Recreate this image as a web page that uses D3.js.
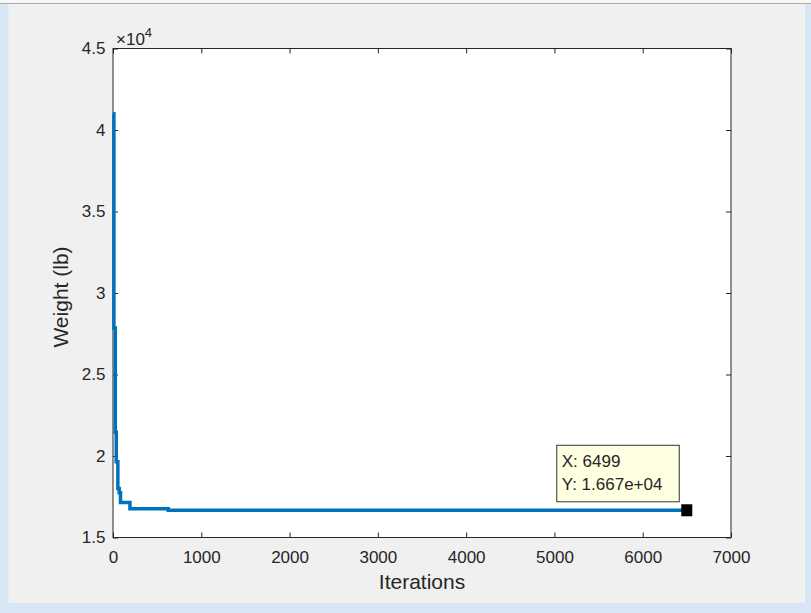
<!DOCTYPE html>
<html>
<head>
<meta charset="utf-8">
<script src="https://cdn.jsdelivr.net/npm/d3@7"></script>
<style>
  body { margin: 0; background: #f0f0f0; }
  svg { display: block; font-family: "Liberation Sans", Arial, sans-serif; }
</style>
</head>
<body>
<svg id="fig" width="811" height="613"></svg>
<script>
// step history of the optimiser (iteration, weight in lb)
var iterations = [0, 10, 26, 37, 55, 70, 85, 192, 626, 6499];
var weights = [41000, 27850, 21450, 19650, 18000, 17750, 17150, 16760, 16670, 16670];

var xTicks = [0, 1000, 2000, 3000, 4000, 5000, 6000, 7000];
var yTicks = [15000, 20000, 25000, 30000, 35000, 40000, 45000];
var yTickLabels = ["1.5", "2", "2.5", "3", "3.5", "4", "4.5"];

var tipX = 6499, tipY = 16670;
var tipLines = ["X: 6499", "Y: 1.667e+04"];

var svg = d3.select("#fig");

// figure window chrome
svg.append("rect").attr("width", 811).attr("height", 613).attr("fill", "#f0f0f0");
svg.append("rect").attr("width", 811).attr("height", 3).attr("fill", "#f7f7f7");
svg.append("rect").attr("y", 3).attr("width", 811).attr("height", 1).attr("fill", "#a8a8a8");
svg.append("rect").attr("y", 4).attr("width", 8.5).attr("height", 609).attr("fill", "#d8e5f5");
svg.append("rect").attr("x", 805).attr("y", 4).attr("width", 6).attr("height", 609).attr("fill", "#d8e5f5");
svg.append("rect").attr("y", 603).attr("width", 811).attr("height", 10).attr("fill", "#d8e5f5");

var margin = {top: 48.5, left: 113};
var width = 618, height = 489;
var g = svg.append("g").attr("transform", "translate(" + margin.left + "," + margin.top + ")");

var x = d3.scaleLinear().domain([0, 7000]).range([0, width]);
var y = d3.scaleLinear().domain([15000, 45000]).range([height, 0]);

g.append("rect").attr("width", width).attr("height", height).attr("fill", "#ffffff");

var axisColor = "#262626";
function styleAxis(sel) {
  sel.select(".domain").remove();
  sel.selectAll(".tick line").attr("stroke", axisColor);
  sel.selectAll(".tick text").attr("fill", axisColor).attr("font-size", 17);
}

g.append("g")
  .attr("transform", "translate(0," + height + ")")
  .call(d3.axisBottom(x).tickValues(xTicks).tickFormat(d3.format("d")).tickSizeInner(-5).tickSizeOuter(0).tickPadding(13))
  .call(styleAxis);
g.append("g")
  .call(d3.axisTop(x).tickValues(xTicks).tickFormat("").tickSizeInner(-5).tickSizeOuter(0))
  .call(styleAxis);
g.append("g")
  .call(d3.axisLeft(y).tickValues(yTicks).tickFormat(function(d, i) { return yTickLabels[i]; }).tickSizeInner(-5).tickSizeOuter(0).tickPadding(7.5))
  .call(styleAxis);
g.append("g")
  .attr("transform", "translate(" + width + ",0)")
  .call(d3.axisRight(y).tickValues(yTicks).tickFormat("").tickSizeInner(-5).tickSizeOuter(0))
  .call(styleAxis);

g.append("rect").attr("width", width).attr("height", height)
  .attr("fill", "none").attr("stroke", axisColor).attr("stroke-width", 1);

// exponent label
var expo = g.append("text").attr("x", 3).attr("y", -3.5).attr("fill", axisColor).attr("font-size", 17);
expo.append("tspan").text("\u00d710");
expo.append("tspan").attr("dy", -8).attr("font-size", 13).text("4");

// axis labels
g.append("text")
  .attr("x", width / 2).attr("y", height + 51)
  .attr("text-anchor", "middle").attr("fill", axisColor).attr("font-size", 21)
  .text("Iterations");
g.append("text")
  .attr("transform", "translate(-45," + (height / 2 + 4) + ") rotate(-90)")
  .attr("text-anchor", "middle").attr("fill", axisColor).attr("font-size", 21)
  .text("Weight (lb)");

// data line
var data = iterations.map(function(d, i) { return [d, weights[i]]; });
var line = d3.line()
  .x(function(d) { return x(d[0]); })
  .y(function(d) { return y(d[1]); })
  .curve(d3.curveStepAfter);
g.append("path").datum(data)
  .attr("d", line)
  .attr("fill", "none").attr("stroke", "#0072bd").attr("stroke-width", 3.5);

// data tip
var mx = x(tipX), my = y(tipY);
g.append("rect")
  .attr("x", mx - 5.5).attr("y", my - 6).attr("width", 11).attr("height", 12)
  .attr("fill", "#000000");
var tip = g.append("g").attr("transform", "translate(" + (mx - 130) + "," + (my - 65) + ")");
tip.append("rect").attr("width", 122.5).attr("height", 56.5)
  .attr("fill", "#ffffe1").attr("stroke", "#333333").attr("stroke-width", 1);
tip.selectAll("text").data(tipLines).enter().append("text")
  .attr("x", 5).attr("y", function(d, i) { return 21.5 + i * 23.5; })
  .attr("fill", axisColor).attr("font-size", 17)
  .text(function(d) { return d; });
</script>
</body>
</html>
